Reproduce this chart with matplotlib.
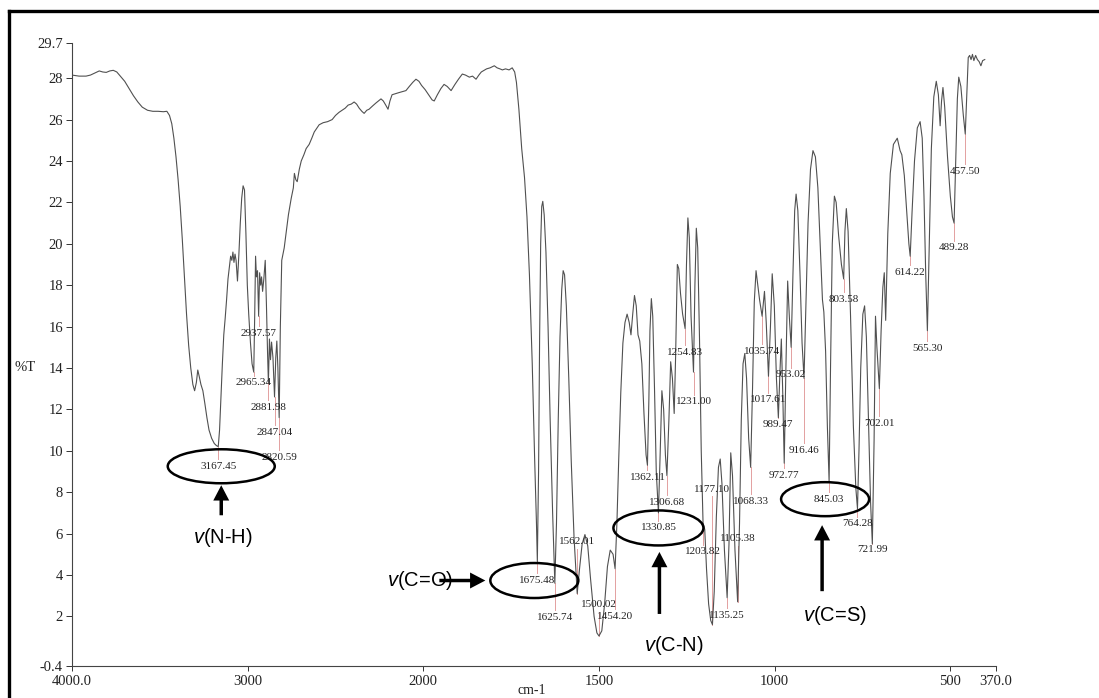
import numpy as np
import matplotlib
matplotlib.use('Agg')
import matplotlib.pyplot as plt
from matplotlib.patches import Ellipse, FancyArrowPatch

plt.rcParams['mathtext.fontset'] = 'custom'
plt.rcParams['mathtext.rm'] = 'Liberation Sans'
plt.rcParams['mathtext.it'] = 'Liberation Sans:italic'

# ---------------- data ----------------
wavenumber = [
    4000, 3960, 3920, 3895, 3870, 3845, 3825, 3805, 3785, 3765, 3745, 3725, 3700, 3675, 3650, 3625,
    3600, 3570, 3540, 3510, 3480, 3460, 3445, 3432, 3420, 3408, 3396, 3384, 3372, 3360, 3348, 3336,
    3324, 3312, 3302, 3292, 3284, 3276, 3266, 3255, 3244, 3232, 3220, 3205, 3190, 3178, 3167.45,
    3160, 3152, 3144, 3136, 3128, 3120, 3112, 3104, 3097, 3090, 3084, 3078, 3072, 3066, 3058, 3050,
    3042, 3034, 3026, 3018, 3010, 3002, 2994, 2984, 2975, 2965.34, 2960, 2955, 2950, 2944, 2937.57,
    2932, 2926, 2921, 2915, 2908, 2900, 2893, 2887, 2881.98, 2876, 2870, 2864, 2856, 2847.04, 2840,
    2834, 2828, 2820.59, 2814, 2806, 2792, 2780, 2768, 2752, 2740, 2734, 2726, 2718, 2706, 2695,
    2680, 2667, 2650, 2635, 2621, 2605, 2593, 2570, 2545, 2519, 2500, 2480, 2462, 2445, 2428, 2410,
    2394, 2380, 2365, 2350, 2337, 2322, 2309, 2290, 2270, 2255, 2241, 2228, 2214, 2201, 2190, 2178,
    2160, 2140, 2120, 2099, 2080, 2060, 2042, 2025, 2010, 1995, 1985, 1975, 1969, 1960, 1950, 1941,
    1932, 1921, 1910, 1900, 1889, 1880, 1869, 1860, 1850, 1842, 1835, 1820, 1810, 1798, 1790, 1782,
    1775, 1766, 1756, 1747, 1740, 1735, 1728, 1720, 1712, 1705, 1698, 1690, 1683, 1678, 1675.48,
    1672, 1669, 1666, 1663, 1660, 1656, 1651, 1645, 1639, 1632, 1625.74, 1621, 1616, 1611, 1606,
    1602, 1598, 1593, 1586, 1579, 1571, 1562.01, 1556, 1548, 1540, 1532, 1524, 1514, 1506, 1500.02,
    1492, 1484, 1476, 1468, 1460, 1454.20, 1449, 1444, 1438, 1432, 1426, 1420, 1414, 1409, 1404,
    1399, 1394, 1389, 1384, 1378, 1372, 1366, 1362.11, 1358, 1355, 1351, 1347, 1342, 1337, 1330.85,
    1326, 1321, 1316, 1311, 1306.68, 1301, 1296, 1291, 1286, 1282, 1277, 1273, 1268, 1262, 1254.83,
    1251, 1247, 1243, 1238, 1231.00, 1227, 1223, 1219, 1214, 1209, 1203.82, 1199, 1194, 1188, 1182,
    1177.10, 1172, 1166, 1160, 1155, 1150, 1143, 1135.25, 1130, 1125, 1120, 1113, 1105.38, 1100,
    1095, 1090, 1085, 1080, 1074, 1068.33, 1063, 1058, 1053, 1048, 1043, 1035.74, 1029, 1024,
    1017.61, 1012, 1007, 1001, 995, 989.47, 985, 981, 977, 972.77, 968, 963, 958, 953.02, 948, 943,
    939, 934, 928, 922, 916.46, 911, 905, 898, 891, 884, 877, 870, 864, 860, 855, 850, 845.03, 841,
    836, 830, 825, 818, 810, 803.58, 800, 796, 791, 784, 776, 769, 764.28, 760, 755, 749, 744, 739,
    733, 727, 721.99, 717, 713, 709, 702.01, 697, 692, 688, 684, 678, 671, 662, 651, 643, 638, 631,
    624, 618, 614.22, 609, 602, 594, 586, 580, 575, 570, 565.30, 560, 554, 547, 540, 534, 529, 525,
    521, 516, 508, 500, 494, 489.28, 485, 480, 476, 470, 463, 457.50, 453, 449, 445, 441, 437, 433,
    428, 423, 418, 413, 408, 402]

transmittance = [
    28.15, 28.1, 28.1, 28.15, 28.25, 28.35, 28.3, 28.28, 28.35, 28.38, 28.3, 28.1, 27.85, 27.5, 27.15, 26.85,
    26.6, 26.45, 26.4, 26.4, 26.38, 26.4, 26.2, 25.8, 25.1, 24.2, 23.1, 21.8, 20.2, 18.4, 16.6, 15.1,
    14.0, 13.2, 12.9, 13.3, 13.9, 13.6, 13.2, 12.9, 12.3, 11.6, 11.0, 10.6, 10.35, 10.25, 10.2,
    11.0, 12.6, 14.2, 15.6, 16.4, 17.3, 18.3, 18.9, 19.4, 19.2, 19.6, 19.1, 19.5, 19.2, 18.2, 19.5,
    21.0, 22.2, 22.8, 22.6, 20.5, 18.0, 16.6, 15.2, 14.2, 13.8, 16.5, 19.4, 18.4, 18.7, 16.5,
    18.6, 18.0, 18.4, 17.7, 18.3, 19.2, 17.0, 14.8, 13.3, 15.4, 14.4, 15.25, 14.5, 12.6, 14.5,
    15.3, 14.0, 11.6, 16.0, 19.2, 19.8, 20.6, 21.4, 22.2, 22.7, 23.4, 23.1, 23.0, 23.6, 24.0,
    24.3, 24.6, 24.8, 25.1, 25.4, 25.6, 25.75, 25.85, 25.9, 26.0, 26.2, 26.35, 26.45, 26.55, 26.7, 26.75,
    26.85, 26.75, 26.55, 26.4, 26.3, 26.45, 26.5, 26.65, 26.8, 26.9, 27.0, 26.9, 26.7, 26.5, 26.9, 27.2,
    27.25, 27.3, 27.35, 27.4, 27.6, 27.8, 27.95, 27.85, 27.65, 27.45, 27.2, 26.95, 26.9, 27.2, 27.5, 27.7,
    27.6, 27.4, 27.7, 27.95, 28.2, 28.15, 28.05, 28.1, 27.95, 28.15, 28.3, 28.45, 28.5, 28.6, 28.5, 28.45,
    28.4, 28.45, 28.4, 28.5, 28.3, 27.8, 26.5, 24.6, 23.2, 21.3, 18.5, 14.2, 9.5, 6.5, 4.65,
    9.0, 15.5, 20.0, 21.8, 22.05, 21.4, 19.6, 16.0, 11.5, 7.0, 3.6, 6.5, 11.5, 15.5, 17.8,
    18.7, 18.5, 17.0, 13.5, 9.5, 5.8, 3.1, 4.2, 5.5, 5.95, 5.4, 3.8, 2.0, 1.2, 1.05,
    1.3, 2.6, 4.4, 5.2, 5.0, 4.3, 6.5, 9.5, 12.8, 15.2, 16.2, 16.6, 16.2, 15.6, 16.6,
    17.5, 17.0, 15.6, 15.3, 14.2, 11.8, 9.8, 9.3, 12.5, 15.8, 17.35, 16.5, 13.0, 9.0, 7.0,
    9.8, 12.9, 12.0, 9.8, 8.8, 11.5, 14.3, 13.5, 11.8, 14.5, 19.0, 18.8, 17.6, 16.6, 15.9,
    19.0, 21.25, 20.3, 16.5, 13.8, 18.0, 20.75, 19.8, 15.5, 10.0, 6.5, 6.2, 4.3, 2.6, 1.8,
    1.6, 3.2, 6.8, 9.2, 9.6, 8.4, 5.2, 2.9, 5.5, 9.9, 8.8, 5.2, 2.7, 6.5,
    11.5, 14.2, 14.7, 13.5, 10.6, 9.2, 13.0, 17.2, 18.7, 18.0, 17.3, 16.5, 17.7, 16.2,
    13.6, 16.0, 18.55, 17.0, 13.5, 11.6, 13.8, 15.4, 12.8, 9.4, 14.0, 18.2, 16.4, 15.0, 18.5, 21.6,
    22.4, 21.6, 18.6, 15.2, 13.5, 17.0, 21.0, 23.6, 24.5, 24.2, 22.7, 19.8, 17.3, 16.7, 14.8, 11.2, 8.5, 14.0,
    20.0, 22.3, 22.0, 20.4, 19.0, 18.3, 20.6, 21.7, 20.6, 16.5, 11.2, 8.2, 7.2, 10.0, 14.0, 16.6, 17.0, 15.5,
    11.5, 7.5, 5.5, 10.5, 16.5, 15.0, 13.0, 15.8, 17.9, 18.6, 16.3, 20.5, 23.4, 24.8, 25.1, 24.5, 24.3, 23.3,
    21.5, 20.0, 19.4, 21.5, 24.0, 25.6, 25.9, 25.1, 22.3, 18.5, 15.8, 20.0, 24.6, 27.1, 27.85, 27.2, 25.7, 26.9,
    27.55, 26.6, 24.2, 22.3, 21.3, 21.0, 23.8, 27.0, 28.05, 27.6, 26.2, 25.3, 27.2, 29.0, 29.1, 28.9, 29.15, 28.85,
    29.1, 28.9, 28.8, 28.6, 28.85, 28.9]

peak_labels = ['3167.45', '2965.34', '2937.57', '2881.98', '2847.04', '2820.59',
               '1675.48', '1625.74', '1562.01', '1500.02', '1454.20', '1362.11',
               '1330.85', '1306.68', '1254.83', '1231.00', '1203.82', '1177.10',
               '1135.25', '1105.38', '1068.33', '1035.74', '1017.61', '989.47',
               '972.77', '953.02', '916.46', '845.03', '803.58', '764.28',
               '721.99', '702.01', '614.22', '565.30', '489.28', '457.50']
peak_wn = [float(s) for s in peak_labels]
# vertical level (in %T) where each peak label sits
label_level = [9.25, 13.28, 15.67, 12.08, 10.88, 9.68,
               3.73, 1.96, 5.6, 2.58, 2.0, 8.72,
               6.27, 7.52, 14.76, 12.36, 5.12, 8.14,
               2.05, 5.75, 7.57, 14.81, 12.46, 11.26,
               8.82, 13.66, 10.01, 7.66, 17.3, 6.47,
               5.22, 11.31, 18.6, 14.95, 19.8, 23.5]

# band assignments: (text, peak it points at)
bands = [('N-H', '3167.45'), ('C=O', '1675.48'), ('C-N', '1330.85'), ('C=S', '845.03')]

x_ticks = [4000, 3000, 2000, 1500, 1000, 500, 370]
x_tick_labels = ['4000.0', '3000', '2000', '1500', '1000', '500', '370.0']
y_ticks = [29.7, 28, 26, 24, 22, 20, 18, 16, 14, 12, 10, 8, 6, 4, 2, -0.4]
y_tick_labels = ['29.7', '28', '26', '24', '22', '20', '18', '16', '14', '12', '10',
                 '8', '6', '4', '2', '-0.4']

# ---------------- figure ----------------
W, H = 1099, 698
fig = plt.figure(figsize=(W / 100, H / 100), dpi=100)
fig.patch.set_facecolor('white')

ax = fig.add_axes([72 / W, 32 / H, (996 - 72) / W, (655 - 32) / H])


def fwd(w):
    w = np.asarray(w, dtype=float)
    return np.where(w > 2000, 2000 + (w - 2000) / 2.0, w)


def inv(u):
    u = np.asarray(u, dtype=float)
    return np.where(u > 2000, 2000 + (u - 2000) * 2.0, u)


ax.set_xscale('function', functions=(fwd, inv))
ax.set_xlim(4000, 370)
ax.set_ylim(-0.4, 29.7)

ax.plot(wavenumber, transmittance, color='#505050', lw=0.8, zorder=3)

serif = 'Liberation Serif'
ax.set_xticks(x_ticks)
ax.set_xticklabels(x_tick_labels, family=serif, fontsize=10.5, color='#222222')
ax.set_yticks(y_ticks)
ax.set_yticklabels(y_tick_labels, family=serif, fontsize=10.5, color='#222222')
ax.tick_params(axis='x', direction='out', length=3.5, width=0.7, pad=3, colors='#333333')
ax.tick_params(axis='y', direction='out', length=4.5, width=0.7, pad=2, colors='#333333')
for lab in ax.get_xticklabels() + ax.get_yticklabels():
    lab.set_color('#222222')
for s in ['top', 'right']:
    ax.spines[s].set_visible(False)
for s in ['left', 'bottom']:
    ax.spines[s].set_color('#444444')
    ax.spines[s].set_linewidth(0.8)

# peak labels with small marker lines
wn_rev = np.array(wavenumber)[::-1]
t_rev = np.array(transmittance)[::-1]
for lab, w, lv in zip(peak_labels, peak_wn, label_level):
    dip = float(np.interp(w, wn_rev, t_rev))
    ax.text(w, lv, lab, family=serif, fontsize=8, ha='center', va='center',
            color='#222222', zorder=5)
    end = lv + 0.35 if dip > lv else lv - 0.35
    ax.plot([w, w], [dip, end], color='#e3a0a0', lw=0.7, zorder=2)

# ---------------- overlay in pixel units for circles / arrows ----------------
ov = fig.add_axes([0, 0, 1, 1], zorder=10)
ov.set_xlim(0, W)
ov.set_ylim(0, H)
ov.axis('off')
ov.patch.set_alpha(0)


def px(w, t):
    return ax.transData.transform((w, t))


lab_pos = {l: (w, lv) for l, w, lv in zip(peak_labels, peak_wn, label_level)}

# ellipses around the assigned peak labels (offset px, width, height)
ell_geom = {'3167.45': (3, 107, 34), '1675.48': (-3, 88, 35),
            '1330.85': (0, 90, 35), '845.03': (-4, 88, 34)}
for lab, (dx, ew, eh) in ell_geom.items():
    cx, cy = px(*lab_pos[lab])
    ov.add_patch(Ellipse((cx + dx, cy), ew, eh, fill=False, ec='black', lw=1.8))

arrow_style = 'simple,head_length=1.1,head_width=1.15,tail_width=0.25'


def draw_arrow(x0, y0, x1, y1):
    ov.add_patch(FancyArrowPatch((x0, y0), (x1, y1), arrowstyle=arrow_style,
                                 mutation_scale=10, color='black', lw=0,
                                 shrinkA=0, shrinkB=0))


txt_kw = dict(family='Liberation Sans', fontsize=14.5, color='black')
for name, lab in bands:
    cx, cy = px(*lab_pos[lab])
    text = r'$\mathit{v}$(' + name + ')'
    if name == 'C=O':
        draw_arrow(cx - 98, cy, cx - 52, cy)
        ov.text(cx - 84, cy, text, ha='right', va='center', **txt_kw)
    else:
        ox = {'N-H': 3, 'C-N': 1, 'C=S': -7}[name]
        top = {'N-H': 19, 'C-N': 24, 'C=S': 26}[name]
        tail = {'N-H': 49, 'C-N': 86, 'C=S': 92}[name]
        tx = {'N-H': 2, 'C-N': 15, 'C=S': 13}[name]
        ty = {'N-H': 71, 'C-N': 118, 'C=S': 116}[name]
        draw_arrow(cx + ox, cy - tail, cx + ox, cy - top)
        ov.text(cx + ox + tx, cy - ty, text, ha='center', va='center', **txt_kw)

# axis titles
_, y14 = px(4000, 14.0)
ov.text(25, y14, '%T', family=serif, fontsize=10.5, ha='center', va='center', color='#222222')
xc, _ = px(1690, 0)
ov.text(xc, 7, 'cm-1', family=serif, fontsize=10, ha='center', va='center', color='#222222')

# scanned frame (left and top edges)
ov.plot([8.5, 8.5], [0, H - 10.5], color='black', lw=2.4, solid_capstyle='projecting')
ov.plot([8.5, W], [H - 10.5, H - 10.5], color='black', lw=2.4, solid_capstyle='projecting')

fig.savefig('out.png', dpi=100, facecolor='white')
